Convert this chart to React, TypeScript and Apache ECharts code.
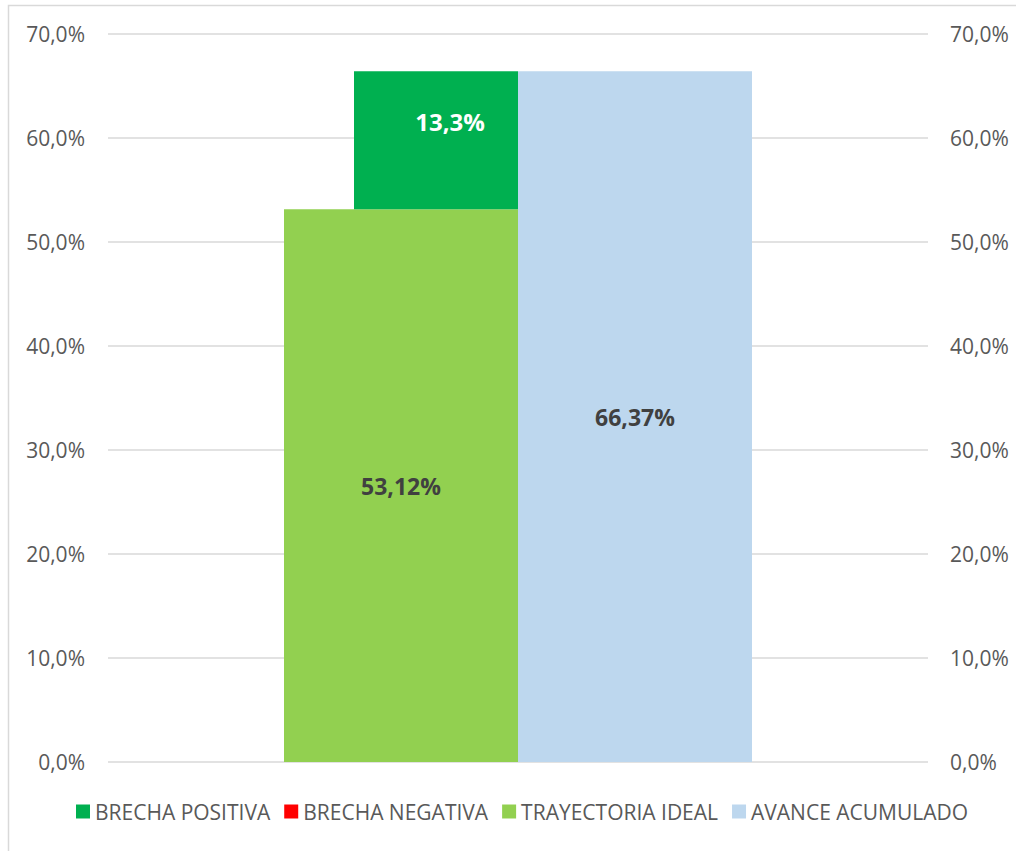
import React, { useEffect, useRef } from "react";
import * as echarts from "echarts";

const categories = ["Avance"];
const brechaPositiva = [13.25];
const brechaNegativa = [0];
const trayectoriaIdeal = [53.12];
const avanceAcumulado = [66.37];
const yTicks = { min: 0, max: 70, interval: 10 };

const FONT = "'Open Sans', 'Noto Sans', sans-serif";
const pct = (v: number, d: number) => v.toFixed(d).replace(".", ",") + "%";

export default function App() {
  const ref = useRef<HTMLDivElement>(null);
  useEffect(() => {
    document.body.style.margin = "0";
    if (!ref.current) return;
    const chart = echarts.init(ref.current, undefined, { renderer: "svg" });
    const axisLabel = {
      color: "#595959",
      fontSize: 21,
      fontFamily: FONT,
      formatter: (v: number) => pct(v, 1),
    };
    const dataLabel = {
      show: true,
      position: "inside",
      color: "#404040",
      fontWeight: "bold",
      fontSize: 23,
      fontFamily: FONT,
      formatter: (p: any) => pct(p.value, 2),
    };
    chart.setOption({
      animation: false,
      backgroundColor: "#ffffff",
      textStyle: { fontFamily: FONT },
      graphic: [
        {
          type: "rect",
          shape: { x: 8.5, y: 5.5, width: 1100, height: 1000 },
          style: { fill: "none", stroke: "#D9D9D9", lineWidth: 1.5 },
          silent: true,
        },
      ],
      grid: { left: 108, right: 88, top: 33.5, bottom: 89, containLabel: false },
      legend: {
        bottom: 24,
        left: 71,
        itemWidth: 14,
        itemHeight: 14,
        itemGap: 14,
        icon: "rect",
        textStyle: { color: "#595959", fontSize: 21, fontFamily: FONT },
        data: ["BRECHA POSITIVA", "BRECHA NEGATIVA", "TRAYECTORIA IDEAL", "AVANCE ACUMULADO"],
      },
      xAxis: [
        {
          type: "category",
          data: categories,
          axisLine: { show: false },
          axisTick: { show: false },
          axisLabel: { show: false },
        },
        {
          type: "category",
          data: categories,
          show: false,
        },
      ],
      yAxis: [
        {
          type: "value",
          ...yTicks,
          position: "left",
          axisLine: { show: false },
          axisTick: { show: false },
          axisLabel: { ...axisLabel, margin: 23 },
          splitLine: { lineStyle: { color: "#D9D9D9", width: 1.5 } },
        },
        {
          type: "value",
          ...yTicks,
          position: "right",
          axisLine: { show: false },
          axisTick: { show: false },
          axisLabel: { ...axisLabel, margin: 22 },
          splitLine: { show: false },
        },
      ],
      series: [
        {
          name: "TRAYECTORIA IDEAL",
          type: "bar",
          xAxisIndex: 0,
          yAxisIndex: 0,
          data: trayectoriaIdeal,
          barWidth: 234,
          barGap: "0%",
          itemStyle: { color: "#92D050" },
          label: dataLabel,
        },
        {
          name: "AVANCE ACUMULADO",
          type: "bar",
          xAxisIndex: 0,
          yAxisIndex: 0,
          data: avanceAcumulado,
          barWidth: 234,
          barGap: "0%",
          itemStyle: { color: "#BDD7EE" },
          label: dataLabel,
        },
        {
          name: "base",
          type: "bar",
          xAxisIndex: 1,
          yAxisIndex: 0,
          stack: "pos",
          data: trayectoriaIdeal,
          barWidth: 164,
          barGap: "0%",
          itemStyle: { color: "transparent" },
          silent: true,
        },
        {
          name: "BRECHA POSITIVA",
          type: "bar",
          xAxisIndex: 1,
          yAxisIndex: 0,
          stack: "pos",
          data: brechaPositiva,
          barWidth: 164,
          barGap: "0%",
          itemStyle: { color: "#00B050" },
          label: {
            ...dataLabel,
            offset: [14, -19],
            color: "#ffffff",
            fontSize: 24,
            formatter: (p: any) => pct(p.value, 1),
          },
        },
        {
          name: "BRECHA NEGATIVA",
          type: "bar",
          xAxisIndex: 1,
          yAxisIndex: 0,
          stack: "neg",
          data: brechaNegativa,
          barWidth: 164,
          barGap: "0%",
          itemStyle: { color: "#FF0000" },
        },
      ],
    });
    return () => chart.dispose();
  }, []);
  return <div ref={ref} style={{ width: 1016, height: 851 }} />;
}
